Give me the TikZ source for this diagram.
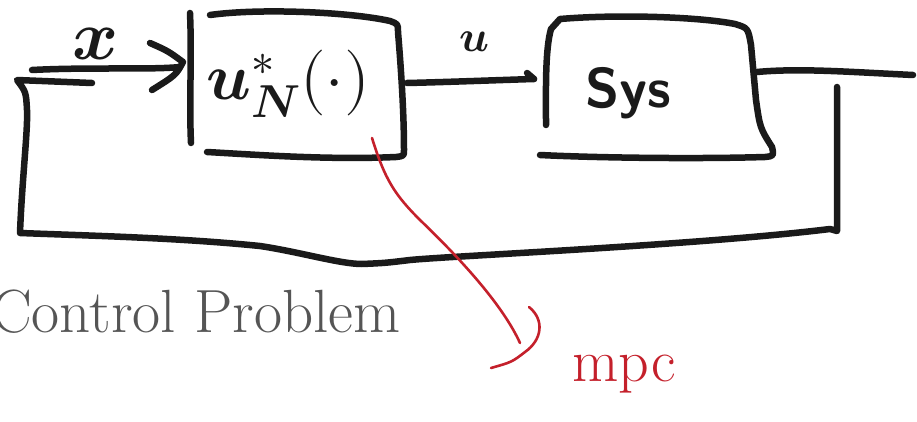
\documentclass[tikz,border=0pt]{standalone}
\usepackage{fontspec}
\usepackage{unicode-math}
\begin{document}
\begin{tikzpicture}[x=1pt,y=-1pt,
  ink/.style={line width=6.5pt,draw=inkblack,line cap=round,line join=round},
  redink/.style={line width=2.6pt,draw=inkred,line cap=round,line join=round},
  lbl/.style={inner sep=0pt,text=inkblack},
]
\definecolor{inkblack}{HTML}{1A1A1A}
\definecolor{inkred}{HTML}{C4202B}
\definecolor{titlegray}{HTML}{555555}
\useasboundingbox (0,0) rectangle (917,422);
% named points
\coordinate (inA) at (32,70);
\coordinate (inB) at (180,67);
\coordinate (fbTL) at (17,80);
\coordinate (fbTR) at (92,83);
\coordinate (fbBL) at (20,233);
\coordinate (fbDip) at (362,264);
\coordinate (fbBR) at (837,231);
\coordinate (fbTop) at (837,87);
\coordinate (ctrlOut) at (407,83);
\coordinate (sysIn) at (534,79);
\coordinate (sysOut) at (757,72);
\coordinate (outEnd) at (913,75);
\coordinate (redA) at (372,138);
\coordinate (redB) at (520,343);
% controller box
\draw[ink] (190,13) .. controls (192,60) and (189,100) .. (191,143);
\draw[ink] (210,15) .. controls (260,8) and (350,12) .. (390,21)
  .. controls (398,24) .. (398,32) .. controls (402,80) and (404,120) .. (404,150)
  .. controls (404,156) .. (396,157) .. controls (330,160) and (260,155) .. (207,152);
\node[lbl,font=\fontsize{66}{66}\selectfont] (ctrl) at (288,84) {$\symbfit{u}_{\symbfit{N}}^{\symbf{*}}(\cdot)$};
% system box
\draw[ink] (551,29) .. controls (545,50) and (546,90) .. (546,125);
\draw[ink] (551,29) -- (560,19) .. controls (620,14) and (700,17) .. (735,24)
  .. controls (748,28) .. (751,45) -- (756,100) .. controls (760,128) .. (772,147)
  .. controls (774,156) .. (765,157) .. controls (700,159) and (600,158) .. (540,155);
\node[lbl,font=\sffamily\bfseries\fontsize{56}{56}\selectfont] (sys) at (628,93) {Sys};
% input arrow
\draw[ink] (inA) .. controls (90,67) and (150,70) .. (inB);
\draw[ink] (150,43) .. controls (168,51) .. (183,62) .. controls (176,75) .. (152,90);
\node[lbl,font=\fontsize{70}{70}\selectfont] (xl) at (96,44) {$\symbfit{x}$};
% u arrow
\draw[ink] (ctrlOut) .. controls (450,82) and (500,80) .. (sysIn);
\draw[ink] (527,73) -- (sysIn);
\node[lbl,font=\fontsize{44}{44}\selectfont] (ul) at (474,42) {$\symbfit{u}$};
% output and feedback
\draw[ink] (sysOut) .. controls (800,68) and (850,72) .. (outEnd);
\draw[ink] (fbTop) -- (fbBR) -- (830,229)
  .. controls (700,245) and (450,256) .. (410,260)
  .. controls (385,263) .. (fbDip)
  .. controls (340,264) and (300,252) .. (260,246)
  .. controls (180,238) and (100,236) .. (fbBL)
  .. controls (22,180) and (28,130) .. (27,110) .. controls (26,92) .. (fbTL) -- (fbTR);
% title text
\node[anchor=base west,inner sep=0pt,text=titlegray,font=\fontsize{61}{61}\selectfont] (title) at (-9,332) {Control Problem};
% red annotation
\draw[redink] (redA) .. controls (385,180) and (395,195) .. (420,220)
  .. controls (470,268) and (505,310) .. (redB);
\draw[redink] (529,307) .. controls (545,320) and (542,340) .. (525,352) .. controls (512,362) .. (491,368);
\node[lbl,text=inkred,font=\fontsize{60}{60}\selectfont] (mpc) at (624,374) {mpc};
\end{tikzpicture}
\end{document}
